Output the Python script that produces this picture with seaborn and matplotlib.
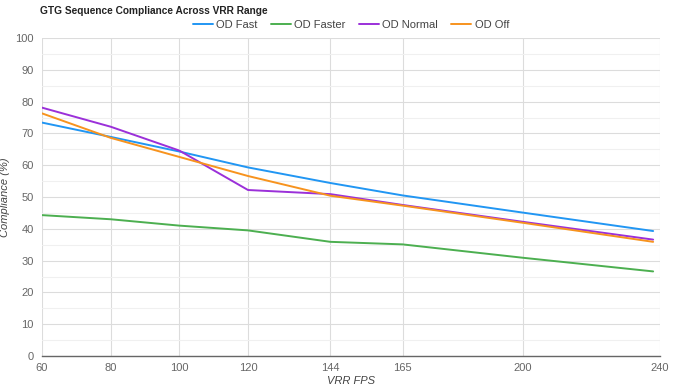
import pandas as pd
import numpy as np
import matplotlib
matplotlib.use("Agg")
import matplotlib.pyplot as plt
import seaborn as sb
from matplotlib.ticker import MultipleLocator

# values
fps = [60, 80, 100, 120, 144, 165, 200, 238]
od_fast = [73.4, 68.9, 64.3, 59.3, 54.4, 50.5, 45.1, 39.3]
od_faster = [44.3, 43.0, 41.0, 39.5, 35.9, 35.1, 30.9, 26.6]
od_normal = [78.1, 72.1, 64.6, 52.2, 50.9, 47.5, 42.2, 36.6]
od_off = [76.3, 68.6, 62.6, 56.6, 50.4, 47.3, 41.9, 35.9]
series_names = ["OD Fast", "OD Faster", "OD Normal", "OD Off"]
x_ticks = [60, 80, 100, 120, 144, 165, 200, 240]

colors = ["#2196f3", "#4caf50", "#9b30d9", "#f7931e"]

data = pd.DataFrame({
    "fps": fps * 4,
    "value": od_fast + od_faster + od_normal + od_off,
    "series": np.repeat(series_names, len(fps)),
})

sb.set_style("white")
plt.rcParams["font.family"] = ["Liberation Sans", "DejaVu Sans"]

fig = plt.figure(figsize=(6.75, 3.9), dpi=100)
ax = fig.add_axes([42 / 675, 1 - 356 / 390, (660 - 42) / 675, (356 - 38) / 390])

sb.lineplot(data=data, x="fps", y="value", hue="series", palette=colors,
            linewidth=1.4, ax=ax, legend=True)

ax.set_xlim(60, 240)
ax.set_ylim(0, 100)
ax.set_xticks(x_ticks)
ax.yaxis.set_major_locator(MultipleLocator(10))
ax.yaxis.set_minor_locator(MultipleLocator(5))
ax.grid(True, which="major", color="#dcdcdc", linewidth=0.8)
ax.grid(True, which="minor", axis="y", color="#f0f0f0", linewidth=0.8)
ax.set_axisbelow(True)

for side in ["top", "right", "left"]:
    ax.spines[side].set_visible(False)
ax.spines["bottom"].set_color("#666666")
ax.spines["bottom"].set_linewidth(1.0)

ax.tick_params(axis="y", which="major", length=4, color="#dcdcdc", labelsize=8,
               labelcolor="#666666", pad=2)
ax.tick_params(axis="y", which="minor", length=0)
ax.tick_params(axis="x", length=0, labelsize=8, labelcolor="#666666", pad=5)

ax.set_xlabel("VRR FPS", fontsize=8, style="italic", color="#444444", labelpad=2)
ax.set_ylabel("Compliance (%)", fontsize=8, style="italic", color="#444444")
ax.yaxis.set_label_coords(-0.052, 0.5)

handles, labels = ax.get_legend_handles_labels()
ax.legend(handles, labels, loc="lower center", bbox_to_anchor=(0.5, 1.0),
          ncol=4, frameon=False, fontsize=8, handlelength=1.8,
          handletextpad=0.3, columnspacing=1.2, borderaxespad=0.3,
          labelcolor="#444444")

fig.text(40 / 675, 1 - 11 / 390, "GTG Sequence Compliance Across VRR Range",
         fontsize=7.3, fontweight="bold", color="#222222", va="center", ha="left")

fig.savefig("out.png", dpi=100)
